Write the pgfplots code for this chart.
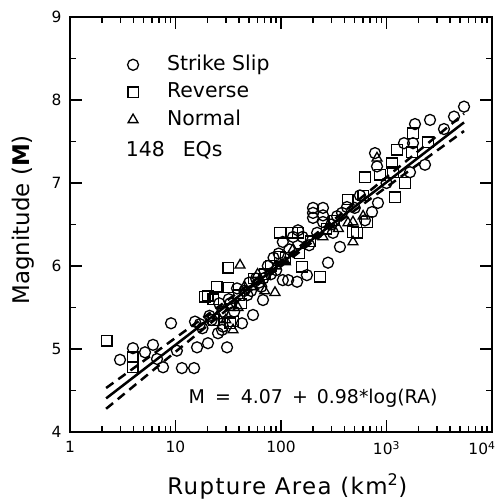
\documentclass[border=0pt]{standalone}
\usepackage{pgfplots}
\pgfplotsset{compat=1.18}
\usepackage{pgfplotstable}
\usepackage{fontspec}
\setmainfont{DejaVu Sans}
\setsansfont{DejaVu Sans}
\newfontfamily\labfont[LetterSpace=6]{DejaVu Sans}

% strike slip events
\pgfplotstableread{
x y
2.98 4.87
3.95 5.01
5.14 4.96
6.12 5.05
6.68 4.88
7.62 4.78
9.07 5.31
10.3 4.98
11.5 4.77
15.0 4.77
15.3 5.33
16.0 5.02
17 5.30
18 5.25
20.3 5.07
21 5.40
22 5.35
25.3 5.19
26 5.55
27.6 5.23
28 5.45
28.2 5.27
30.8 5.02
32 5.60
33 5.55
36 5.45
38.3 5.73
42.7 5.31
45 5.70
48 5.65
50 5.80
52 5.70
54.3 5.41
58 5.85
62 5.80
65 5.75
67.5 5.59
68 5.85
75 6.00
80 5.90
85 6.10
90 5.95
95 6.15
104 5.83
104 6.29
117 5.83
120 6.20
130 6.35
142 5.81
145 6.43
160 6.35
176 5.89
185 6.25
201 6.58
201 6.64
201 6.70
220 6.40
250 6.53
250 6.61
250 6.70
279 6.04
300 6.50
311 6.40
340 6.60
362 6.23
379 6.64
422 6.71
500 6.70
560 6.85
625 6.55
729 6.65
778 7.36
813 7.20
830 6.76
1000 7.00
1465 7.48
1670 7.13
1783 7.48
1862 7.71
2316 7.22
2585 7.76
3506 7.65
4365 7.80
5430 7.92
}\strikeslip

% reverse events
\pgfplotstableread{
x y
2.24 5.10
3.95 4.90
3.95 4.78
19.0 5.63
20.3 5.64
22.7 5.60
23 5.35
24.7 5.75
31.5 5.74
31.5 5.98
32.9 5.31
35.1 5.33
40 5.65
42 5.55
55 5.85
70 5.90
80 6.00
97.9 6.40
97.9 6.11
110 6.10
127 6.40
145 6.40
150 6.15
158 5.99
190 6.30
234 5.87
270 6.45
320 6.55
431 6.80
481 6.41
525 6.40
600 6.85
625 7.07
653 6.53
867 7.10
1127 7.24
1152 7.13
1204 6.83
1258 7.40
1497 7.00
1745 7.37
1783 7.60
2474 7.49
}\reverse

% normal events
\pgfplotstableread{
x y
25 5.40
30 5.35
32.9 5.50
35.1 5.23
39.1 5.50
40.9 6.01
45 5.75
55 5.75
60 5.90
70 5.70
87.7 5.68
90 6.00
110 6.05
130 6.20
250 6.35
350 6.45
431 6.52
481 6.29
481 6.53
600 6.60
813 7.30
}\normal

\begin{document}
\begin{tikzpicture}
\useasboundingbox (-70bp,-68bp) rectangle (425bp,432bp);
\begin{axis}[
  at={(0,0)}, anchor=south west,
  scale only axis, width=422bp, height=415bp,
  xmode=log, xmin=1, xmax=10000, ymin=4, ymax=9,
  xtick={1,10,100,1000,10000},
  xticklabels={1,10,100,10\textsuperscript{3},\hspace*{-20bp}10\textsuperscript{4}},
  minor xtick={2,3,4,5,6,7,8,9,20,30,40,50,60,70,80,90,200,300,400,500,600,700,800,900,2000,3000,4000,5000,6000,7000,8000,9000},
  ytick={4,5,6,7,8,9},
  yticklabels={4,5,6,7,8,9},
  minor ytick={4.5,5.5,6.5,7.5,8.5},
  tick align=inside,
  major tick length=12bp, minor tick length=6bp,
  every tick/.style={line width=1.5bp, black},
  axis line style={line width=2.5bp},
  ticklabel style={font=\fontsize{15.5}{18}\selectfont},
  xticklabel style={yshift=-6bp},
  yticklabel style={xshift=-5bp},
  xlabel={\labfont Rupture Area (km\textsuperscript{2})},
  ylabel={Magnitude (\textbf{M})},
  label style={font=\fontsize{23}{27}\selectfont},
  xlabel style={at={(axis description cs:0.515,-0.13)}, anchor=center},
  ylabel style={at={(axis description cs:-0.111,0.511)}, anchor=center},
  legend style={at={(axis description cs:0.130,0.913)}, anchor=north west,
    draw=none, fill=none, inner sep=0pt, font=\fontsize{20.5}{24}\selectfont,
    row sep=4.5bp, nodes={text height=15bp, text depth=4bp}},
  legend cell align=left,
  legend image code/.code={\path[draw=none] (-8bp,0bp) -- (32bp,0bp);
    \draw[mark repeat=2,mark phase=2,#1] plot coordinates {(-8bp,0bp) (0bp,0bp) (8bp,0bp)};},
]
\addplot[only marks, mark=o, mark size=5.5bp, mark options={line width=1.3bp, black}] table {\strikeslip};
\addlegendentry{Strike Slip}
\addplot[only marks, mark=square, mark size=5.2bp, mark options={line width=1.3bp, black}] table {\reverse};
\addlegendentry{Reverse}
\addplot[only marks, mark=triangle, mark size=5.7bp, mark options={line width=1.3bp, black}] table {\normal};
\addlegendentry{Normal}

\addplot[forget plot, line width=2.5bp, black] coordinates {(2.2,4.405) (5430,7.730)};
\addplot[forget plot, line width=2.5bp, black, dash pattern=on 9bp off 6bp, smooth] coordinates {
  (2.2,4.530) (10,5.134) (31.6,5.595) (100,6.063) (316,6.556) (1000,7.070) (5430,7.835)};
\addplot[forget plot, line width=2.5bp, black, dash pattern=on 9bp off 6bp, smooth] coordinates {
  (2.2,4.280) (10,4.966) (31.6,5.485) (100,5.997) (316,6.484) (1000,6.950) (5430,7.626)};

\node[anchor=west, font=\fontsize{20.5}{24}\selectfont] at (axis description cs:0.124,0.68) {148\hspace{18bp}EQs};
\node[anchor=center, font=\fontsize{19}{22}\selectfont] at (axis description cs:0.576,0.082) {M\hspace{10bp}=\hspace{10bp}4.07\hspace{9bp}+\hspace{9bp}0.98*log(RA)};
\end{axis}
\end{tikzpicture}
\end{document}
